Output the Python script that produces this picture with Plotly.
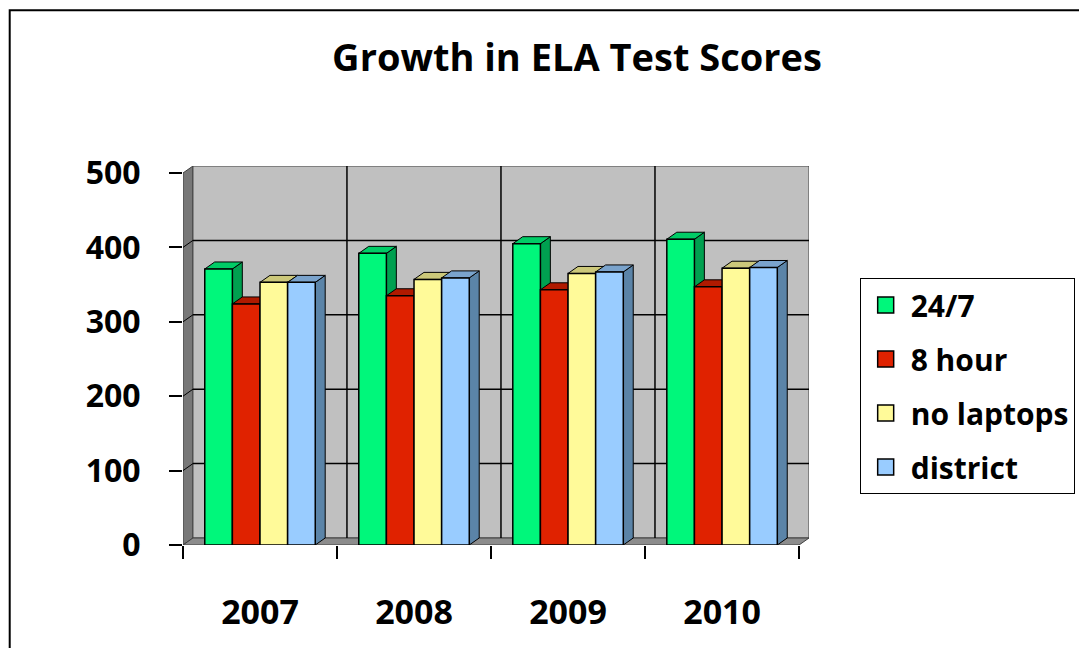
import plotly.graph_objects as go

# ---------------- data ----------------
years = ["2007", "2008", "2009", "2010"]
series_names = ["24/7", "8 hour", "no laptops", "district"]
s_247 = [371, 392, 405, 411]
s_8hour = [324, 335, 343, 347]
s_nolaptops = [353, 357, 365, 372]
s_district = [353, 359, 367, 373]
y_ticks = [0, 100, 200, 300, 400, 500]

# ---------------- styles ----------------
front_cols = ["#00F77B", "#E02200", "#FFFA99", "#99CCFF"]
top_cols = ["#00CC66", "#B01A00", "#CCC87A", "#7AA3CC"]
side_cols = ["#00A050", "#A01800", "#B3AF6B", "#5B84A8"]
FONT = "Open Sans"
OFF = 8  # page body margin

W, H = 1087 - OFF, 648 - OFF
ML, MR, MT, MB = 183 - OFF, 274, 166 - OFF, 103
PW, PH = W - ML - MR, H - MT - MB
PX_X = 155.0          # px per category unit
PX_Y = 372.0 / 500.0  # px per value unit
DX = 10.0 / PX_X      # 3D depth in x data units
DY = 7.0 / PX_Y       # 3D depth in y data units
BW = 27.8 / PX_X      # bar width in data units
YMAX = 500

all_series = [s_247, s_8hour, s_nolaptops, s_district]
n = len(all_series)
offsets = [(i - (n - 1) / 2) * BW for i in range(n)]

fig = go.Figure()
shapes = []

# walls
x_left, x_right = -0.5, len(years) - 0.5
shapes.append(dict(type="path", layer="below",
                   path=f"M{x_left},0 L{x_left},{YMAX} L{x_left+DX},{YMAX+DY} L{x_left+DX},{DY} Z",
                   fillcolor="#787878", line=dict(color="#404040", width=1)))
shapes.append(dict(type="rect", layer="below", x0=x_left + DX, x1=x_right + DX, y0=DY, y1=YMAX + DY,
                   fillcolor="#C0C0C0", line=dict(color="#404040", width=1)))
shapes.append(dict(type="path", layer="below",
                   path=f"M{x_left},0 L{x_right},0 L{x_right+DX},{DY} L{x_left+DX},{DY} Z",
                   fillcolor="#8C8C8C", line=dict(color="#404040", width=1)))
# gridlines on back wall and side wall
for v in y_ticks[1:-1]:
    shapes.append(dict(type="line", layer="below", x0=x_left + DX, x1=x_right + DX, y0=v + DY, y1=v + DY,
                       line=dict(color="black", width=1.5)))
    shapes.append(dict(type="line", layer="below", x0=x_left, x1=x_left + DX, y0=v, y1=v + DY,
                       line=dict(color="black", width=1)))
for k in range(1, len(years)):
    shapes.append(dict(type="line", layer="below", x0=k - 0.5 + DX, x1=k - 0.5 + DX, y0=DY, y1=YMAX + DY,
                       line=dict(color="black", width=1.5)))

# bars: side + top faces (shapes), front faces (bar traces)
for ci in range(len(years)):
    for si, ser in enumerate(all_series):
        v = ser[ci]
        xc = ci + offsets[si]
        x0, x1 = xc - BW / 2, xc + BW / 2
        shapes.append(dict(type="path", layer="below",
                           path=f"M{x1},0 L{x1+DX},{DY} L{x1+DX},{v+DY} L{x1},{v} Z",
                           fillcolor=side_cols[si], line=dict(color="black", width=1)))
        shapes.append(dict(type="path", layer="below",
                           path=f"M{x0},{v} L{x1},{v} L{x1+DX},{v+DY} L{x0+DX},{v+DY} Z",
                           fillcolor=top_cols[si], line=dict(color="black", width=1)))

for si, ser in enumerate(all_series):
    fig.add_trace(go.Bar(
        x=[ci + offsets[si] for ci in range(len(years))], y=ser, width=BW,
        marker=dict(color=front_cols[si], line=dict(color="black", width=1.5)),
        showlegend=False, hoverinfo="y", name=series_names[si]))

# legend entries
for si, name in enumerate(series_names):
    fig.add_trace(go.Scatter(
        x=[None], y=[None], mode="markers", name=f"<b>{name}</b>", legendgroup=name,
        marker=dict(symbol="square", size=16, color=front_cols[si], line=dict(color="black", width=1.5))))

# outer chart border
shapes.append(dict(type="rect", xref="paper", yref="paper",
                   x0=(0.6 - ML) / PW, x1=2.0,
                   y0=-1.0, y1=1 + (MT - 2.3) / PH,
                   line=dict(color="black", width=2), fillcolor="rgba(0,0,0,0)"))

fig.update_layout(
    width=W, height=H,
    margin=dict(l=ML, r=MR, t=MT, b=MB, pad=0),
    paper_bgcolor="white", plot_bgcolor="white",
    barmode="overlay",
    shapes=shapes,
    title=dict(text="<b>Growth in ELA Test Scores</b>", x=(577 - OFF) / W, xanchor="center",
               y=1 - (58 - OFF) / H, yanchor="middle", font=dict(family=FONT, size=38, color="black")),
    font=dict(family=FONT, color="black"),
    xaxis=dict(range=[x_left, x_right + DX], tickvals=list(range(len(years))), ticktext=[f"<b>{y}</b>" for y in years],
               ticks="", showgrid=False, zeroline=False, showline=False,
               tickfont=dict(family=FONT, size=34, color="black"), ticklabelstandoff=44,
               minor=dict(tickvals=[k - 0.5 for k in range(len(years) + 1)], ticks="outside", ticklen=13,
                          tickcolor="black", tickwidth=1.5, showgrid=False),
               fixedrange=True),
    yaxis=dict(range=[0, YMAX + DY], tickvals=y_ticks, ticktext=[f"<b>{v}</b>" for v in y_ticks],
               ticks="outside", ticklen=13, tickcolor="black", tickwidth=1.5,
               showgrid=False, zeroline=False, showline=False,
               tickfont=dict(family=FONT, size=32, color="black"), ticklabelstandoff=22,
               fixedrange=True),
    legend=dict(x=(864 - OFF - ML) / PW, xanchor="left",
                y=(H - MB - (278 - OFF)) / PH, yanchor="top",
                bordercolor="black", borderwidth=1, bgcolor="white",
                font=dict(family=FONT, size=30, color="black"),
                tracegroupgap=12, itemsizing="trace", itemwidth=40,
                entrywidth=280, entrywidthmode="pixels"),
)

fig.write_html("out.html")
